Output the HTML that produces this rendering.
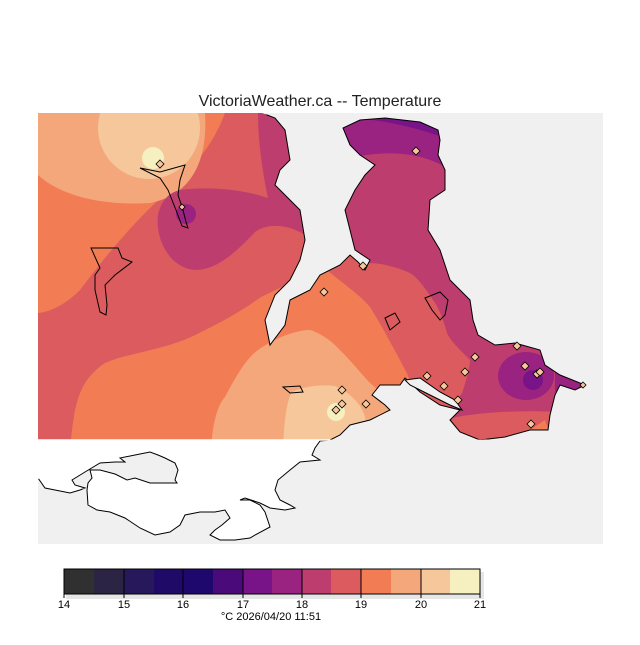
<!DOCTYPE html>
<html><head><meta charset="utf-8"><style>
body{margin:0;background:#fff;width:640px;height:640px;overflow:hidden;font-family:"Liberation Sans",sans-serif}
</style></head><body>
<svg width="640" height="640" viewBox="0 0 640 640" xmlns="http://www.w3.org/2000/svg" font-family="Liberation Sans, sans-serif">
<rect width="640" height="640" fill="#fff"/>
<text x="320" y="106" text-anchor="middle" font-size="16" fill="#222">VictoriaWeather.ca -- Temperature</text>
<rect x="38" y="113" width="565" height="431" fill="#f0f0f0"/>
<defs>
<clipPath id="land"><polygon id="lp" points="38,113 262,113 275,118 285,130 290,160 280,170 275,185 300,210 305,240 300,260 290,280 275,295 265,320 270,345 285,325 290,300 310,290 320,275 340,265 350,255 358,262 365,270 370,260 355,250 350,230 345,210 355,190 365,175 375,165 360,155 350,145 343,128 360,120 385,118 420,122 438,130 440,140 438,155 445,170 445,190 430,200 428,230 440,250 450,280 470,300 473,320 478,335 495,345 515,343 540,350 545,365 560,375 585,385 575,390 560,385 555,395 550,415 548,430 530,430 505,437 480,440 460,432 450,420 460,410 440,405 420,392 405,378 400,385 380,385 372,395 385,405 390,410 370,420 350,425 340,435 330,440 38,440"/></clipPath>
<clipPath id="inner"><rect x="39.5" y="114.5" width="570" height="325"/></clipPath>
</defs>
<g clip-path="url(#land)">
<rect x="38" y="113" width="565" height="335" fill="#db5b5e"/>
<path d="M38,113 L225,113 C215,140 200,160 175,185 C140,215 110,250 80,290 C65,305 50,312 38,313 Z" fill="#f27d55"/>
<path d="M38,113 L205,113 C208,160 192,195 150,203 C100,206 60,195 38,175 Z" fill="#f3a77b"/>
<circle cx="149" cy="128" r="51" fill="#f5c79b"/>
<circle cx="153" cy="158" r="11" fill="#f6efbf"/>
<path d="M258,113 L300,113 L305,235 C290,225 268,222 255,232 C238,250 218,270 195,270 C170,268 155,240 158,215 C162,197 172,192 180,190 C210,186 245,190 268,198 C262,170 258,140 258,113 Z" fill="#bd3e6e"/>
<circle cx="186" cy="214" r="10" fill="#9a2280"/>
<path d="M71,445 L71,440 C75,400 80,380 105,363 C130,352 170,350 205,330 C230,318 250,305 261,297 L323,267 C345,285 360,295 370,307 C383,328 390,342 393,347 C400,360 405,370 407,373 L423,420 L430,448 Z" fill="#f27d55"/>
<path d="M330,113 L603,113 L603,450 L440,450 L450,407 C460,398 463,392 463,390 C468,375 470,365 470,360 C458,348 450,340 447,333 C442,315 437,305 433,300 C422,283 415,276 410,273 C392,265 378,263 367,263 L330,245 Z" fill="#bd3e6e"/>
<path d="M452,418 C480,412 520,410 560,412 L560,450 L445,450 Z" fill="#db5b5e"/>
<path d="M330,113 L450,113 L450,170 C420,150 380,150 340,160 Z" fill="#9a2280"/>
<path d="M360,113 L450,113 L450,140 C420,128 390,122 360,118 Z" fill="#781488"/>
<ellipse cx="526" cy="376" rx="28" ry="24" fill="#9a2280"/>
<circle cx="533" cy="380" r="10" fill="#781488"/>
<path d="M555,372 L590,385 L575,395 L555,392 Z" fill="#9a2280"/>
<path d="M211,448 C213,420 218,405 225,397 C238,372 248,357 258,350 C278,336 298,330 310,330 C323,334 333,343 337,347 C353,363 364,377 370,383 C383,394 390,399 393,400 L400,448 Z" fill="#f3a77b"/>
<path d="M283,448 C284,420 287,402 291,393 C300,387 320,384 335,386 C352,394 361,404 365,417 L370,448 Z" fill="#f5c79b"/>
<circle cx="336" cy="412" r="9" fill="#f6efbf"/>
<path d="M530,430 L545,420 L550,435 L535,440 Z" fill="#f27d55"/>
</g>
<g clip-path="url(#inner)"><use href="#lp" fill="none" stroke="#000" stroke-width="1"/></g>
<path d="M91,248 L118,248 L122,258 L132,262 L115,275 L105,285 L107,305 L106,315 L100,312 L95,290 L95,275 L100,268 Z" fill="none" stroke="#000"/>
<path d="M425,298 L440,292 L448,300 L445,315 L440,320 L432,310 Z" fill="none" stroke="#000"/>
<path d="M385,318 L395,313 L400,322 L390,330 Z" fill="none" stroke="#000"/>
<path d="M283,387 L300,386 L303,392 L290,393 Z" fill="none" stroke="#000"/>
<path d="M140,168 L160,172 L185,165 L180,180 L178,195 L183,210 L186,222 L188,228 L182,226 L176,210 L168,190 L160,178 Z" fill="none" stroke="#000"/>
<path d="M405,380 L420,378 L440,392 L455,400 L462,410 L450,405 L430,395 L410,385 Z" fill="#f0f0f0" stroke="#000"/>
<polygon points="38,440 330,440 320,441 315,448 312,455 320,460 300,462 290,470 278,480 275,490 280,500 290,505 295,508 285,510 270,508 260,503 245,498 240,500 250,500 260,505 265,512 270,527 255,535 250,538 235,540 220,540 210,535 215,530 222,525 230,518 225,510 215,512 200,512 185,515 180,525 170,532 155,535 140,528 125,518 110,512 97,510 88,505 87,490 88,483 92,478 90,470 100,470 115,474 127,480 135,478 150,483 177,483 175,480 178,470 175,463 165,458 158,455 150,452 135,455 120,458 125,462 115,462 100,463 85,472 72,480 75,485 85,488 80,490 70,493 55,490 45,488 38,478" fill="#fff" stroke="#000" stroke-width="1"/>
<line x1="37" y1="440" x2="330" y2="440" stroke="#fff" stroke-width="1.5"/>
<line x1="38" y1="440" x2="38" y2="479" stroke="#fff" stroke-width="1.5"/>
<g fill="#f5c79b" stroke="#000" stroke-width="0.8">
<path d="M160,160 l4,4 -4,4 -4,-4z"/><path d="M182,204 l3,3 -3,3 -3,-3z"/>
<path d="M416,147 l4,4 -4,4 -4,-4z"/><path d="M363,262 l4,4 -4,4 -4,-4z"/>
<path d="M324,288 l4,4 -4,4 -4,-4z"/><path d="M517,342 l4,4 -4,4 -4,-4z"/>
<path d="M475,353 l4,4 -4,4 -4,-4z"/><path d="M525,362 l4,4 -4,4 -4,-4z"/>
<path d="M537,370 l4,4 -4,4 -4,-4z"/><path d="M540,368 l4,4 -4,4 -4,-4z"/>
<path d="M583,382 l3,3 -3,3 -3,-3z"/><path d="M465,368 l4,4 -4,4 -4,-4z"/>
<path d="M427,372 l4,4 -4,4 -4,-4z"/><path d="M444,382 l4,4 -4,4 -4,-4z"/>
<path d="M458,396 l4,4 -4,4 -4,-4z"/><path d="M342,386 l4,4 -4,4 -4,-4z"/>
<path d="M342,400 l4,4 -4,4 -4,-4z"/><path d="M366,400 l4,4 -4,4 -4,-4z"/>
<path d="M336,406 l4,4 -4,4 -4,-4z"/><path d="M531,420 l4,4 -4,4 -4,-4z"/>
</g>
<rect x="66" y="572" width="418" height="27" fill="#e6e6e6"/>
<g>
<rect x="64" y="569" width="30" height="25" fill="#303030"/>
<rect x="94" y="569" width="30" height="25" fill="#2c2444"/>
<rect x="124" y="569" width="30" height="25" fill="#26185a"/>
<rect x="154" y="569" width="29" height="25" fill="#1f0a68"/>
<rect x="183" y="569" width="30" height="25" fill="#1e086e"/>
<rect x="213" y="569" width="30" height="25" fill="#4b0a7a"/>
<rect x="243" y="569" width="29" height="25" fill="#781488"/>
<rect x="272" y="569" width="30" height="25" fill="#9a2280"/>
<rect x="302" y="569" width="29" height="25" fill="#bd3e6e"/>
<rect x="331" y="569" width="30" height="25" fill="#db5b5e"/>
<rect x="361" y="569" width="30" height="25" fill="#f27d55"/>
<rect x="391" y="569" width="30" height="25" fill="#f3a77b"/>
<rect x="421" y="569" width="29" height="25" fill="#f5c79b"/>
<rect x="450" y="569" width="30" height="25" fill="#f6efbf"/>
</g>
<rect x="64" y="569" width="416" height="25" fill="none" stroke="#000"/>
<g stroke="#000">
<line x1="124" y1="569" x2="124" y2="594"/><line x1="183" y1="569" x2="183" y2="594"/><line x1="243" y1="569" x2="243" y2="594"/><line x1="302" y1="569" x2="302" y2="594"/><line x1="361" y1="569" x2="361" y2="594"/><line x1="421" y1="569" x2="421" y2="594"/>
<line x1="64" y1="594" x2="64" y2="598"/><line x1="124" y1="594" x2="124" y2="598"/><line x1="183" y1="594" x2="183" y2="598"/><line x1="243" y1="594" x2="243" y2="598"/><line x1="302" y1="594" x2="302" y2="598"/><line x1="361" y1="594" x2="361" y2="598"/><line x1="421" y1="594" x2="421" y2="598"/><line x1="480" y1="594" x2="480" y2="598"/>
</g>
<g font-size="11" text-anchor="middle" fill="#000">
<text x="64" y="608">14</text><text x="124" y="608">15</text><text x="183" y="608">16</text><text x="243" y="608">17</text><text x="302" y="608">18</text><text x="361" y="608">19</text><text x="421" y="608">20</text><text x="480" y="608">21</text>
<text x="271" y="620">°C  2026/04/20 11:51</text>
</g>
</svg>
</body></html>
